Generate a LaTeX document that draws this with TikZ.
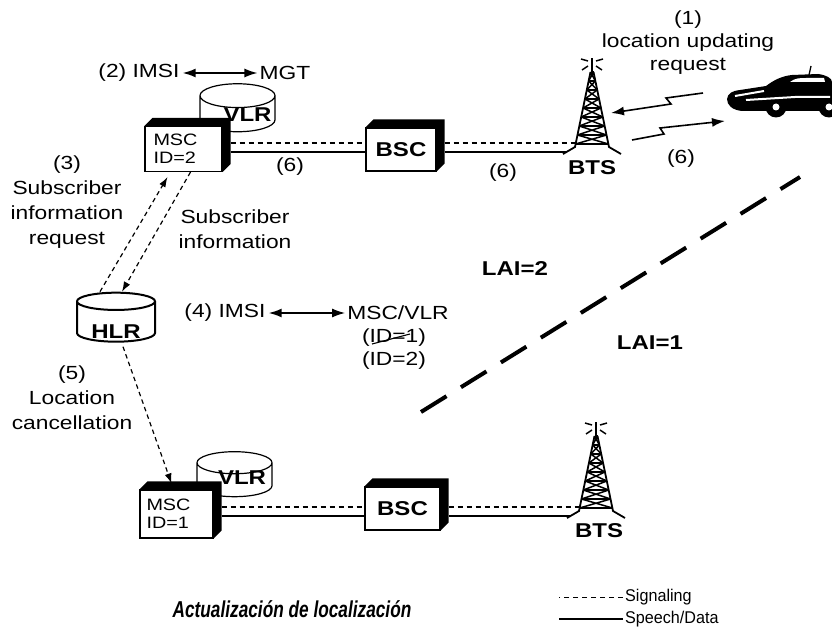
\documentclass[tikz,border=0pt]{standalone}
\usepackage{fontspec}
\setmainfont{Liberation Sans}[FakeStretch=1.2]
\newfontfamily\keyfont{Liberation Sans}[FakeStretch=0.95]
\newfontfamily\titlefont{Liberation Sans}[FakeStretch=0.75]
\usetikzlibrary{shapes.geometric,arrows.meta}

\tikzset{
  txt/.style={font=\fontsize{19}{25}\selectfont, align=center, inner sep=0pt},
  bold/.style={font=\bfseries\fontsize{20}{24}\selectfont, inner sep=0pt},
  block/.style={draw, fill=white, line width=1.2pt, inner sep=2pt, text width=60pt, align=left, font=\fontsize{16.5}{18}\selectfont},
  unit/.style={draw, fill=white, line width=1.2pt, font=\bfseries\fontsize{20}{24}\selectfont},
  drum/.style={cylinder, shape border rotate=90, aspect=0.35, draw, fill=white, line width=1.2pt, font=\bfseries\fontsize{20}{24}\selectfont, inner sep=0pt},
  signal/.style={line width=1.4pt, dash pattern=on 5.5pt off 3.5pt},
  bearer/.style={line width=1.7pt},
  msg/.style={line width=1.2pt, dash pattern=on 4.5pt off 3.5pt, -{Latex[length=10pt,width=7pt]}},
  both/.style={line width=1.5pt, {Latex[length=13pt,width=9pt]}-{Latex[length=13pt,width=9pt]}, shorten <=3pt, shorten >=2pt},
  radio/.style={line width=1.6pt, -{Latex[length=13pt,width=9pt]}},
}
% drum text: lowered by #1, pushed right by half of #2
\newcommand\drumtext[3]{\raisebox{-#1}[0pt][0pt]{\hspace*{#2}#3}}

\begin{document}
\begin{tikzpicture}[x=1pt, y=-1pt]
    % Page
    \fill[white] (0,0) rectangle (832,631);
    \useasboundingbox (0,0) rectangle (832,631);

    % Parameters
    \def\depth{8}

    % Registers behind the switches
    \node[drum, minimum width=75pt, minimum height=48pt] (vlr2) at (237.5,114) {\drumtext{8pt}{20pt}{VLR}};
    \node[drum, minimum width=75pt, minimum height=45pt] (vlr1) at (234.5,480) {\drumtext{4pt}{15pt}{VLR}};
    \node[drum, minimum width=78pt, minimum height=49pt, line width=2pt] (hlr) at (116,322) {\drumtext{16pt}{0pt}{HLR}};

    % Switches and controllers
    \node[block, minimum width=77pt, minimum height=45pt] (msc2) at (183.5,149) {MSC\\ID=2};
    \node[unit, minimum width=70pt, minimum height=43pt] (bsc2) at (401,149.5) {BSC};
    \node[block, minimum width=73pt, minimum height=48pt] (msc1) at (176.5,514) {MSC\\ID=1};
    \node[unit, minimum width=75pt, minimum height=43pt] (bsc1) at (402.5,508.5) {BSC};

    % Dark top and side of each box
    \foreach \n in {msc2,bsc2,msc1,bsc1} {
        \fill (\n.north west) -- ++(\depth,-\depth) -| ([shift={(\depth,-\depth)}]\n.south east) -- (\n.south east) -- (\n.north east) -- cycle;
    }

    % Towers
    \foreach \n/\x/\y in {tw2/592/72, tw1/596/436} {
        \begin{scope}[shift={(\x,\y)}, line width=1.5pt]
            \coordinate (\n) at (0,0);
            \draw[line width=1.6pt] (0,0) -- (0,-14);
            \draw (-4,-11) -- (-11,-13) (-4,-6) -- (-10,-2) (4,-11) -- (11,-13) (4,-6) -- (10,-2);
            \draw[line width=1.8pt] (-1.5,0) -- (-17,75) -- (-29,82) (1.5,0) -- (17,75) -- (29,82);
            \foreach \k in {0,...,7} {
                \pgfmathsetmacro{\ya}{\k*9}
                \pgfmathsetmacro{\yb}{(\k+1)*9}
                \pgfmathsetmacro{\wa}{1.5+\ya*0.207}
                \pgfmathsetmacro{\wb}{1.5+\yb*0.207}
                \draw (-\wa,\ya) -- (\wa,\ya);
                \draw (-\wa,\ya) -- (\wb,\yb) (\wa,\ya) -- (-\wb,\yb);
            }
            \draw (-16.4,72) -- (16.4,72);
            \coordinate (\n-sig) at (-16,71);
            \coordinate (\n-bearer) at (-25,80);
        \end{scope}
    }
    \node[bold] (bts2) at (592,168) {BTS};
    \node[bold] (bts1) at (599,531) {BTS};

    % Signaling and speech lines, MSC - BSC - BTS
    \foreach \r/\up/\dn in {2/-6/3, 1/-7/2} {
        \coordinate (sig\r) at ([shift={(\depth,\up)}]msc\r.east);
        \coordinate (bearer\r) at ([shift={(\depth,\dn)}]msc\r.east);
        \draw[signal] (sig\r) -- (sig\r -| bsc\r.west);
        \draw[bearer] (bearer\r) -- (bearer\r -| bsc\r.west);
        \draw[signal] (sig\r -| bsc\r.east) ++(\depth,0) -- (tw\r-sig);
        \draw[bearer] (bearer\r -| bsc\r.east) ++(\depth,0) -- (tw\r-bearer);
    }
    \node[txt] (six-a) at (290,167) {(6)};
    \node[txt] (six-b) at (503,173) {(6)};
    \node[txt] (six-c) at (681,159) {(6)};

    % Car
    \fill (727,99) .. controls (728,93) and (732,91) .. (740,90) -- (766,86) .. controls (774,80) and (782,76) .. (792,75) -- (818,74) .. controls (826,75) and (832,78) .. (832,82) -- (832,111) -- (742,111) .. controls (732,110) and (727,105) .. (727,99) -- cycle;
    \fill (776,107) circle (10.5) (829,107) circle (10.5);
    \fill[white] (776,107) circle (3.5) (829,107) circle (3.5);
    \fill[white] (790,82) .. controls (795,78) and (800,78) .. (806,78) -- (824,78) -- (825,82) -- cycle;
    \draw[white, line width=2pt] (735,96) -- (764,91) (746,100) -- (795,97) -- (830,97);
    \draw[line width=1.3pt] (809,75) -- (811,66);
    \coordinate (uplink) at (703,93);
    \coordinate (downlink) at (632,140);
    \draw[radio] (uplink) -- ++(-37,5) -- ++(5,6) -- ++(-60,9);
    \draw[radio] (downlink) -- ++(32,-6) -- ++(-4,-6) -- ++(65,-7);
    \node[txt, font=\fontsize{19}{23}\selectfont] (upd) at (688,43) {(1)\\location updating\\request};

    % Identity exchanges
    \node[txt] (imsi2) at (139,73) {(2) IMSI};
    \node[txt] (mgt) at (285,73) {MGT};
    \draw[both] (imsi2) -- (mgt);
    \node[txt] (imsi4) at (225,313) {(4) IMSI};
    \node[txt] (mscvlr) at (398,313) {MSC/VLR};
    \node[txt] (oldid) at (394,338) {(ID=1)};
    \node[txt] (newid) at (394,361) {(ID=2)};
    \draw[both] (imsi4) -- (mscvlr);
    \draw[line width=1.1pt] ([shift={(-22,6)}]oldid.center) -- ([shift={(16,-4)}]oldid.center);

    % HLR messages
    \draw[msg] ([xshift=-16pt]hlr.north) -- ([shift={(-16,5)}]msc2.south);
    \draw[msg] ([xshift=7pt]msc2.south) -- ([xshift=6pt]hlr.north);
    \draw[msg] ([shift={(7,4)}]hlr.south) -- ([shift={(-5,-6)}]msc1.north);
    \node[txt] (req3) at (67,202) {(3)\\Subscriber\\information\\request};
    \node[txt] (info3) at (235,229) {Subscriber\\information};
    \node[txt] (cancel5) at (72,398) {(5)\\Location\\cancellation};

    % Location areas
    \draw[line width=4pt, dash pattern=on 30pt off 17pt] (421,412) -- (800,177);
    \node[bold] (lai2) at (515,269) {LAI=2};
    \node[bold] (lai1) at (650,343) {LAI=1};

    % Title and key
    \node[font=\titlefont\bfseries\itshape\fontsize{23}{25}\selectfont, inner sep=0pt] (title) at (292,609) {Actualización de localización};
    \node[font=\keyfont\fontsize{17}{19}\selectfont, anchor=west, inner sep=0pt] (sigkey) at (625,597) {Signaling};
    \node[font=\keyfont\fontsize{17}{19}\selectfont, anchor=west, inner sep=0pt] (datakey) at (625,619) {Speech/Data};
    \draw[signal, line width=1pt] (sigkey.west) ++(-2,0) -- ++(-64,0);
    \draw[bearer, line width=1.3pt] (datakey.west) ++(-2,0) -- ++(-64,0);
\end{tikzpicture}
\end{document}
